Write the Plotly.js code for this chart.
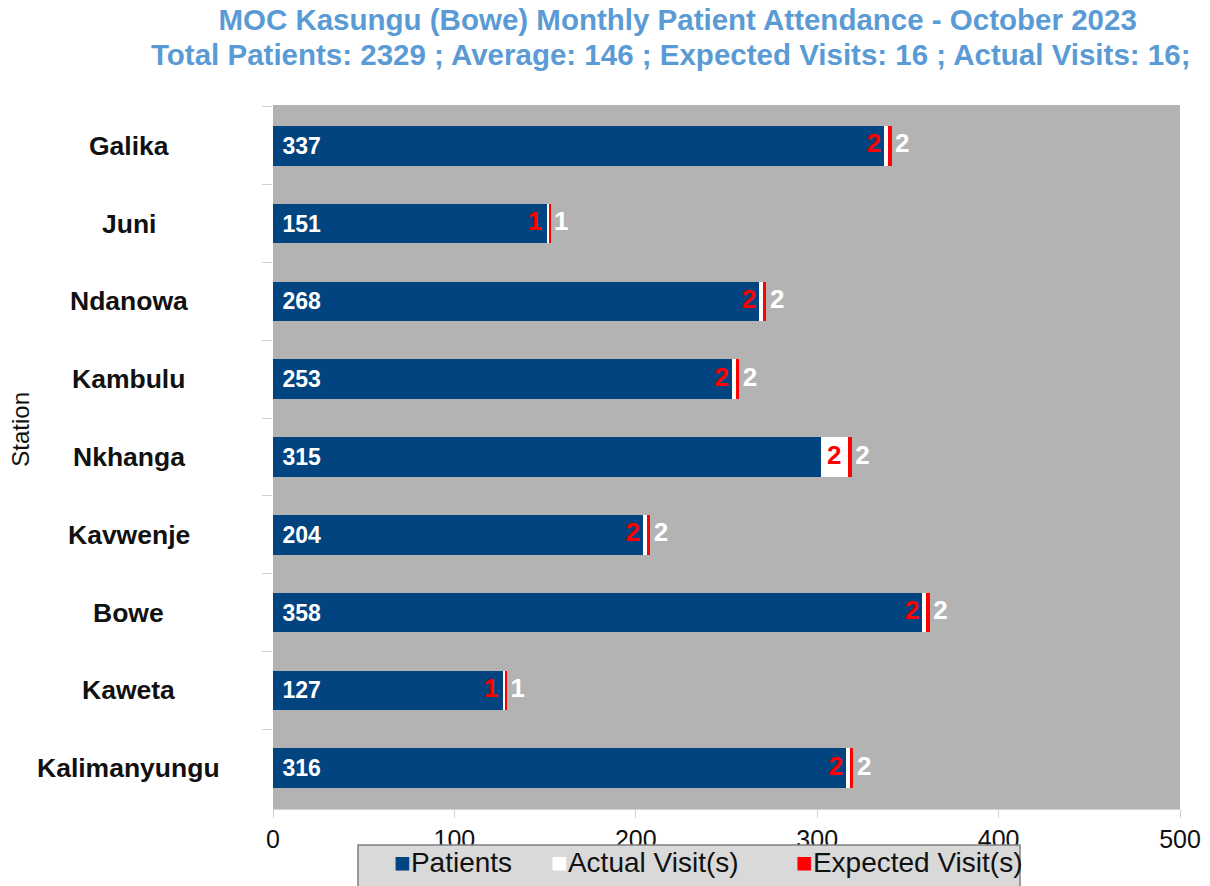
<!DOCTYPE html>
<html>
<head>
<meta charset="utf-8">
<script src="https://cdn.plot.ly/plotly-3.0.1.min.js"></script>
<style>body{margin:0;background:#fff}#chart{width:1210px;height:886px}</style>
</head>
<body>
<div id="chart"></div>
<script>
const stations = ['Galika','Juni','Ndanowa','Kambulu','Nkhanga','Kavwenje','Bowe','Kaweta','Kalimanyungu'];
const patients = [337,151,268,253,315,204,358,127,316];
const patientBar = [337,151,268,253,302,204,358,127,316];
const actualVisits = [2,1,2,2,2,2,2,1,2];
const actualBar = [2,1,2,2,15,2,2,1,2];
const expectedVisits = [2,1,2,2,2,2,2,1,2];
const xTicks = [0,100,200,300,400,500];
const legendNames = ['Patients','Actual Visit(s)','Expected Visit(s)'];
const titleLine1 = 'MOC Kasungu (Bowe) Monthly Patient Attendance - October 2023';
const titleLine2 = 'Total Patients: 2329 ; Average: 146 ; Expected Visits: 16 ; Actual Visits: 16;';

const FONT = 'Liberation Sans, Arial, sans-serif';
const blue = '#02447f';
const colors = [blue,'#ffffff','#ff0000'];
const titleColor = '#5b9bd5';

const redLabelX = patientBar.map((v,i)=>v+actualBar[i]);
const whiteLabelX = redLabelX.map((v,i)=>v+expectedVisits[i]);

const traces = [
  {type:'bar', orientation:'h', name:legendNames[0], y:stations, x:patientBar,
   marker:{color:colors[0]}, text:patients.map(String), texttemplate:'\u00a0%{text}',
   textposition:'inside', insidetextanchor:'start',
   textfont:{family:FONT, size:23, color:'#ffffff', weight:'bold'}, hoverinfo:'skip'},
  {type:'bar', orientation:'h', name:legendNames[1], y:stations, x:actualBar,
   marker:{color:colors[1]}, hoverinfo:'skip'},
  {type:'bar', orientation:'h', name:legendNames[2], y:stations, x:expectedVisits,
   marker:{color:colors[2]}, hoverinfo:'skip'},
  {type:'scatter', mode:'text+markers', y:stations, x:redLabelX, text:actualVisits.map(String),
   marker:{size:9, opacity:0},
   textposition:'middle left', textfont:{family:FONT, size:26, color:'#ff0000', weight:'bold'},
   showlegend:false, hoverinfo:'skip', cliponaxis:false},
  {type:'scatter', mode:'text+markers', y:stations, x:whiteLabelX, text:expectedVisits.map(String),
   marker:{size:4, opacity:0},
   textposition:'middle right', textfont:{family:FONT, size:26, color:'#ffffff', weight:'bold'},
   showlegend:false, hoverinfo:'skip', cliponaxis:false}
];

const annotations = stations.map(s=>({
  xref:'paper', yref:'y', x:-0.159, y:s, text:s, showarrow:false, xanchor:'center',
  font:{family:FONT, size:26.5, color:'#111', weight:'bold'}
}));
annotations.push({xref:'paper', yref:'paper', x:-0.278, y:0.54, text:'Station', textangle:-90,
  showarrow:false, xanchor:'center', yanchor:'middle', font:{family:FONT, size:24, color:'#111'}});
// second title line
annotations.push({xref:'paper', yref:'paper', x:0.438, y:1.0724, xanchor:'center', yanchor:'middle',
  showarrow:false, text:titleLine2, font:{family:FONT, size:29.5, color:titleColor, weight:'bold'}});

// custom legend (inside a box below the plot)
const legendX = [0.1315, 0.3048, 0.5749];
legendNames.forEach((n,i)=>{
  annotations.push({xref:'paper', yref:'paper', x:legendX[i], y:-0.076, xanchor:'left', yanchor:'middle',
    showarrow:false, align:'left',
    text:'<span style="color:'+colors[i]+'">■</span>'+n,
    font:{family:FONT, size:28, color:'#111'}});
});

const layout = {
  width:1210, height:886,
  margin:{l:273, r:30, t:105, b:77, autoexpand:false},
  paper_bgcolor:'#ffffff', plot_bgcolor:'#b3b3b3',
  barmode:'stack', bargap:0.49,
  title:{text:titleLine1,
    x:0.56, xanchor:'center', xref:'container', y:1-20/886, yref:'container', yanchor:'middle',
    font:{family:FONT, size:29.5, color:titleColor, weight:'bold'}},
  xaxis:{range:[0,500], tickvals:xTicks, ticktext:xTicks.map(String), showgrid:false, zeroline:false,
    ticks:'outside', ticklen:8, tickcolor:'#d0d0d0', showline:true, linecolor:'#d0d0d0',
    tickfont:{family:FONT, size:25, color:'#111'}, fixedrange:true},
  yaxis:{type:'category', autorange:'reversed', showticklabels:false, showgrid:false, zeroline:false,
    ticks:'outside', tickson:'boundaries', ticklen:10, tickcolor:'#d0d0d0', fixedrange:true},
  shapes:[{type:'rect', xref:'paper', yref:'paper', x0:0.0937, x1:0.8236, y0:-0.0511, y1:-0.2,
    fillcolor:'#d9d9d9', line:{color:'#7f7f7f', width:1.5}, layer:'above'}],
  annotations:annotations,
  showlegend:false
};

Plotly.newPlot('chart', traces, layout, {displayModeBar:false, staticPlot:true});
</script>
</body>
</html>
